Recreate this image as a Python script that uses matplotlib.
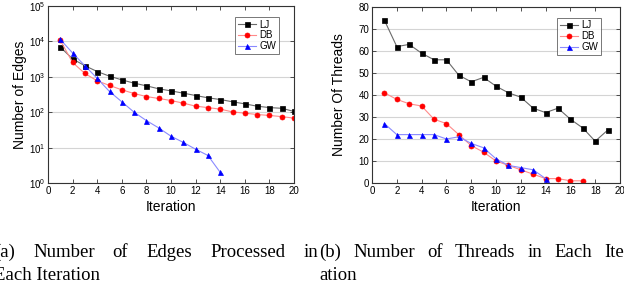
import matplotlib
matplotlib.use("Agg")
import matplotlib.pyplot as plt
from matplotlib.ticker import LogLocator, NullLocator, FixedLocator

# ---------------- data ----------------
iters_edges = list(range(1, 21))
edges_lj = [6900, 3200, 2050, 1410, 1040, 820, 660, 556, 458, 400,
            345, 296, 255, 228, 197, 172, 148, 135, 129, 105]
edges_db = [10700, 2540, 1240, 770, 570, 429, 337, 277, 244, 214,
            180, 148, 135, 122, 102, 94, 86, 81, 75, 68]
iters_gw_edges = list(range(1, 15))
edges_gw = [11400, 4700, 2050, 900, 385, 197, 100, 58, 36, 21, 14, 9, 6, 2]

iters_thr_lj = list(range(1, 20))
threads_lj = [74, 62, 63, 59, 56, 56, 49, 46, 48, 44, 41, 39, 34, 32, 34, 29, 25, 19, 24]
iters_thr_db = list(range(1, 18))
threads_db = [41, 38, 36, 35, 29, 27, 22, 17, 14, 10, 8, 6, 4, 2, 2, 1, 1]
iters_thr_gw = list(range(1, 15))
threads_gw = [27, 22, 22, 22, 22, 20, 21, 18, 16, 11, 8, 7, 6, 2]

series_labels = ["LJ", "DB", "GW"]
x_ticks = list(range(0, 21, 2))
thread_ticks = list(range(0, 81, 10))

caption_a_line1 = ["(a)", "Number", "of", "Edges", "Processed", "in"]
caption_a_line2 = "Each Iteration"
caption_b_line1 = ["(b)", "Number", "of", "Threads", "in", "Each", "Iter-"]
caption_b_line2 = "ation"

# ---------------- style ----------------
W, H = 624, 288
fig = plt.figure(figsize=(W / 100, H / 100), dpi=100)
sans = ["Liberation Sans", "DejaVu Sans"]
serif = ["Liberation Serif", "DejaVu Serif"]
plt.rcParams["font.family"] = sans
plt.rcParams["mathtext.fontset"] = "custom"
plt.rcParams["mathtext.rm"] = "Liberation Sans"

line_styles = [
    dict(color="#6a6a6a", marker="s", mfc="black", mec="black"),
    dict(color="#ff8a8a", marker="o", mfc="red", mec="red"),
    dict(color="#8a8aff", marker="^", mfc="blue", mec="blue"),
]


def px_axes(x0, x1, y0, y1):
    return fig.add_axes([x0 / W, (H - y1) / H, (x1 - x0) / W, (y1 - y0) / H])


def style_axes(ax):
    for s in ax.spines.values():
        s.set_color("#333333")
        s.set_linewidth(0.8)
    ax.tick_params(which="both", direction="in", top=True, right=True,
                   labelsize=7, length=3, width=0.6, pad=2, colors="#333333",
                   labelcolor="black")
    ax.grid(axis="y", color="#d4d4d4", linewidth=0.8)
    ax.set_axisbelow(True)


def plot_series(ax, xs_list, ys_list):
    for xs, ys, st, lab in zip(xs_list, ys_list, line_styles, series_labels):
        ax.plot(xs, ys, label=lab, lw=0.8, ms=3.6, mew=0.5, **st)


def add_legend(ax, anchor):
    leg = ax.legend(loc="upper right", bbox_to_anchor=anchor, fontsize=7,
                    frameon=True, fancybox=False, handlelength=1.9,
                    handletextpad=0.35, labelspacing=0.08, borderpad=0.3,
                    borderaxespad=0)
    leg.get_frame().set_edgecolor("#555555")
    leg.get_frame().set_linewidth(0.7)
    return leg


# ---------------- left: edges ----------------
ax1 = px_axes(48, 294, 6, 183)
plot_series(ax1, [iters_edges, iters_edges, iters_gw_edges],
            [edges_lj, edges_db, edges_gw])
ax1.set_yscale("log")
ax1.set_ylim(1, 1e5)
ax1.set_xlim(0, 20)
ax1.yaxis.set_major_locator(LogLocator(base=10, numticks=10))
ax1.yaxis.set_minor_locator(NullLocator())
ax1.xaxis.set_major_locator(FixedLocator(x_ticks))
style_axes(ax1)
ax1.set_xlabel("Iteration", fontsize=10, labelpad=3)
ax1.set_ylabel("Number of Edges", fontsize=10, labelpad=1)
add_legend(ax1, (0.94, 0.94))

# ---------------- right: threads ----------------
ax2 = px_axes(372, 620, 7, 183)
plot_series(ax2, [iters_thr_lj, iters_thr_db, iters_thr_gw],
            [threads_lj, threads_db, threads_gw])
ax2.set_ylim(0, 80)
ax2.set_xlim(0, 20)
ax2.xaxis.set_major_locator(FixedLocator(x_ticks))
ax2.yaxis.set_major_locator(FixedLocator(thread_ticks))
style_axes(ax2)
ax2.set_xlabel("Iteration", fontsize=10, labelpad=3)
ax2.set_ylabel("Number Of Threads", fontsize=10, labelpad=9)
add_legend(ax2, (0.925, 0.94))

# ---------------- captions (justified) ----------------
renderer = fig.canvas.get_renderer()
cap_size = 13.5


def justified(words, x0, x1, y):
    texts = [fig.text(0, (H - y) / H, w, fontsize=cap_size, family=serif,
                      va="baseline", ha="left") for w in words]
    widths = [t.get_window_extent(renderer).width for t in texts]
    gap = (x1 - x0 - sum(widths)) / (len(words) - 1)
    x = x0
    for t, w in zip(texts, widths):
        t.set_x(x / W)
        x += w + gap


base1, base2 = 257, 280
justified(caption_a_line1, -6, 318, base1)
fig.text(-6 / W, (H - base2) / H, caption_a_line2, fontsize=cap_size,
         family=serif, va="baseline", ha="left")
justified(caption_b_line1, 319, 636, base1)
fig.text(319 / W, (H - base2) / H, caption_b_line2, fontsize=cap_size,
         family=serif, va="baseline", ha="left")

fig.savefig("out.png", dpi=100)
